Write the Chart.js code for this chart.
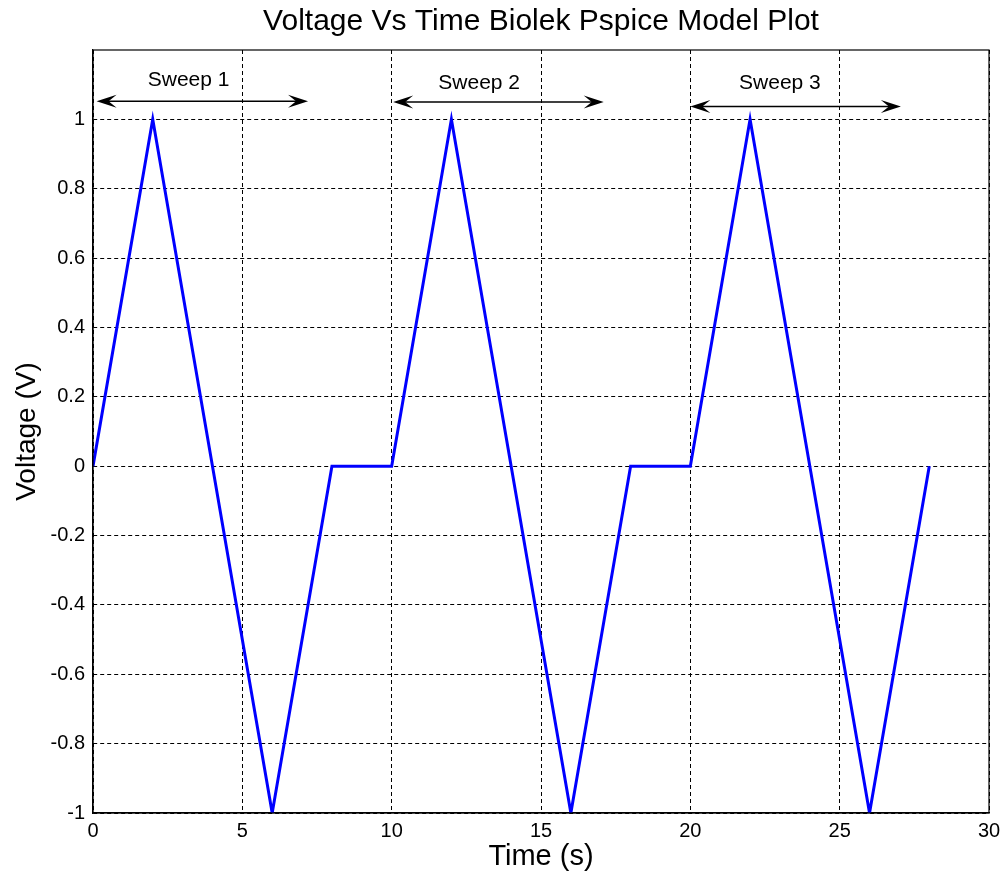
<!DOCTYPE html>
<html>
<head>
<meta charset="utf-8">
<script src="https://cdn.jsdelivr.net/npm/chart.js@4/dist/chart.umd.min.js"></script>
<style>
  html, body { margin: 0; padding: 0; background: #fff; }
  canvas { display: block; }
</style>
</head>
<body>
<canvas id="voltage-chart" width="1003" height="878"></canvas>
<script>
// time (s) and voltage (V) of the triangular sweeps
const timeValues = [0, 2, 6, 8, 10, 12, 16, 18, 20, 22, 26, 28];
const voltageValues = [0, 1, -1, 0, 0, 1, -1, 0, 0, 1, -1, 0];

const xTicks = [0, 5, 10, 15, 20, 25, 30];
const yTicks = [-1, -0.8, -0.6, -0.4, -0.2, 0, 0.2, 0.4, 0.6, 0.8, 1];

// sweep annotations (data coordinates)
const sweepLabels = ['Sweep 1', 'Sweep 2', 'Sweep 3'];
const sweepLabelX = [3.2, 12.93, 23.0];
const sweepLabelY = [1.112, 1.104, 1.104];
const sweepStart = [0.12, 10.05, 20.0];
const sweepEnd = [7.2, 17.1, 27.05];
const sweepArrowY = [1.052, 1.05, 1.037];

const chartTitle = 'Voltage Vs Time Biolek Pspice Model Plot';
const fontFamily = '"Liberation Sans", Arial, Helvetica, sans-serif';

function drawHead(ctx, x, y, dir) {
    const len = 20, half = 6.5;
    ctx.beginPath();
    ctx.moveTo(x, y);
    ctx.lineTo(x - dir * len, y - half);
    ctx.lineTo(x - dir * len * 0.6, y);
    ctx.lineTo(x - dir * len, y + half);
    ctx.closePath();
    ctx.fill();
}

const sweepPlugin = {
    id: 'sweeps',
    afterDatasetsDraw(chart) {
        const ctx = chart.ctx;
        const xs = chart.scales.x, ys = chart.scales.y;
        ctx.save();
        ctx.strokeStyle = '#000';
        ctx.fillStyle = '#000';
        ctx.lineWidth = 1.5;
        sweepLabels.forEach(function(label, i) {
            const x1 = xs.getPixelForValue(sweepStart[i]);
            const x2 = xs.getPixelForValue(sweepEnd[i]);
            const y = ys.getPixelForValue(sweepArrowY[i]);
            ctx.beginPath();
            ctx.moveTo(x1 + 10, y);
            ctx.lineTo(x2 - 10, y);
            ctx.stroke();
            drawHead(ctx, x1, y, -1);
            drawHead(ctx, x2, y, 1);

            ctx.font = '21px ' + fontFamily;
            ctx.textAlign = 'center';
            ctx.textBaseline = 'middle';
            ctx.fillText(label, xs.getPixelForValue(sweepLabelX[i]), ys.getPixelForValue(sweepLabelY[i]));
        });
        ctx.restore();
    },
    afterDraw(chart) {
        const a = chart.chartArea;
        const ctx = chart.ctx;
        ctx.save();
        ctx.strokeStyle = '#000';
        ctx.lineWidth = 1.2;
        ctx.strokeRect(a.left, a.top, a.right - a.left, a.bottom - a.top);
        // title centred over the axes box, like MATLAB
        ctx.fillStyle = '#000';
        ctx.font = '30px ' + fontFamily;
        ctx.textAlign = 'center';
        ctx.textBaseline = 'middle';
        ctx.fillText(chartTitle, (a.left + a.right) / 2, 22);
        ctx.restore();
    }
};

new Chart(document.getElementById('voltage-chart'), {
    type: 'line',
    data: {
        datasets: [{
            data: timeValues.map(function(t, i) { return { x: t, y: voltageValues[i] }; }),
            borderColor: '#0000ff',
            borderWidth: 3,
            pointRadius: 0,
            tension: 0,
            fill: false,
        }]
    },
    options: {
        responsive: false,
        animation: false,
        layout: { padding: { top: 50, right: 14, left: 0, bottom: 0 } },
        plugins: {
            legend: { display: false },
            tooltip: { enabled: false },
            title: { display: false },
        },
        scales: {
            x: {
                type: 'linear',
                min: 0,
                max: 30,
                afterBuildTicks: function(scale) {
                    scale.ticks = xTicks.map(function(v) { return { value: v }; });
                },
                afterFit: function(scale) {
                    scale.height = 65;
                    scale.paddingLeft = 0;
                    scale.paddingRight = 0;
                },
                grid: { color: '#000', lineWidth: 1, drawTicks: false },
                border: { display: true, color: '#000', width: 1.2, dash: [4, 3] },
                ticks: {
                    color: '#000',
                    padding: 6,
                    maxRotation: 0,
                    font: { family: fontFamily, size: 20 },
                },
                title: {
                    display: true,
                    text: 'Time (s)',
                    color: '#000',
                    font: { family: fontFamily, size: 29 },
                    padding: { top: 0, bottom: 4 },
                },
            },
            y: {
                type: 'linear',
                min: -1,
                max: 1.2,
                afterBuildTicks: function(scale) {
                    scale.ticks = yTicks.map(function(v) { return { value: v }; });
                },
                afterFit: function(scale) {
                    scale.width = 93;
                    scale.paddingTop = 0;
                    scale.paddingBottom = 0;
                },
                grid: { color: '#000', lineWidth: 1, drawTicks: false },
                border: { display: true, color: '#000', width: 1.2, dash: [4, 3] },
                ticks: {
                    color: '#000',
                    padding: 8,
                    font: { family: fontFamily, size: 20 },
                    callback: function(v) { return String(Math.round(v * 10) / 10); },
                },
                title: {
                    display: true,
                    text: 'Voltage (V)',
                    color: '#000',
                    font: { family: fontFamily, size: 28 },
                    padding: { top: 10, bottom: 0 },
                },
            },
        },
    },
    plugins: [sweepPlugin],
});
</script>
</body>
</html>
